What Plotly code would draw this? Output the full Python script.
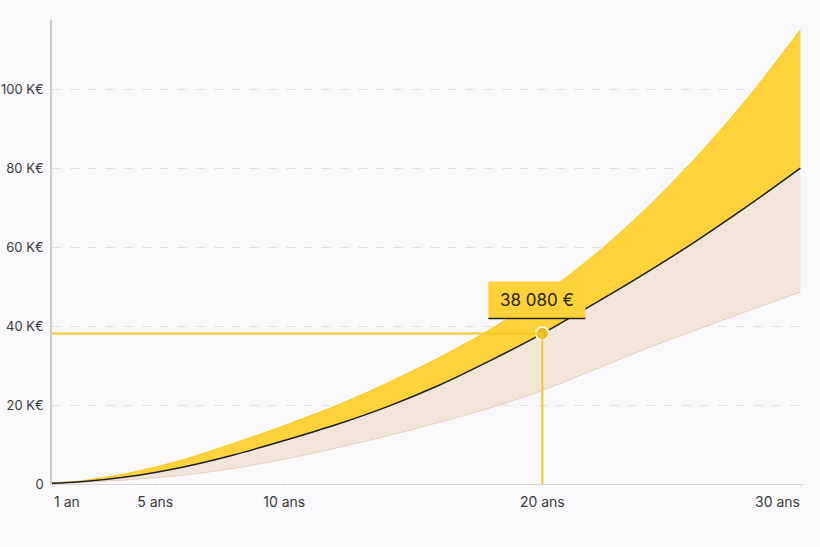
import plotly.graph_objects as go

# ---- data (K€) ----
years = [1, 2, 4, 6, 8, 10, 12, 14, 16, 18, 20, 22, 24, 26, 28, 30]
median_k = [0.2, 0.5, 1.9, 4.2, 7.3, 11.0, 15.0, 19.6, 25.0, 31.3, 38.08, 45.6, 53.4, 61.7, 70.6, 80.0]
high_k = [0.3, 0.7, 2.8, 6.0, 10.2, 14.8, 19.8, 25.6, 32.0, 39.2, 47.8, 57.9, 69.6, 83.0, 98.1, 115.0]
low_k = [0.2, 0.35, 1.1, 2.2, 3.9, 6.3, 9.1, 12.2, 15.6, 19.3, 23.7, 28.9, 34.2, 39.1, 43.9, 48.6]

x_tickvals = [1, 5, 10, 20, 30]
x_ticktext = ["1 an", "5 ans", "10 ans", "20 ans", "30 ans"]
y_tickvals = [0, 20, 40, 60, 80, 100]
y_ticktext = ["0", "20 K€", "40 K€", "60 K€", "80 K€", "100 K€"]

focus_year = 20
focus_value = 38.08
focus_label = "38 080 €"

YELLOW = "#FDD23A"
YELLOW_LINE = "#F6C824"
BEIGE = "#F1E4D9"
TAN = "#E6CFBC"
FONT = "Inter"
TXT = "#3A3A3A"

fig = go.Figure()
fig.add_trace(go.Scatter(x=years, y=low_k, mode="lines",
                         line=dict(color=TAN, width=1, shape="spline", smoothing=0.8),
                         hoverinfo="skip"))
fig.add_trace(go.Scatter(x=years, y=median_k, mode="lines",
                         line=dict(color="rgba(0,0,0,0)", width=0, shape="spline", smoothing=0.8),
                         fill="tonexty", fillcolor=BEIGE, hoverinfo="skip"))
fig.add_trace(go.Scatter(x=years, y=high_k, mode="lines",
                         line=dict(color=YELLOW_LINE, width=1, shape="spline", smoothing=0.8),
                         fill="tonexty", fillcolor=YELLOW, hoverinfo="skip"))
fig.add_trace(go.Scatter(x=years, y=median_k, mode="lines",
                         line=dict(color="#1E1E1E", width=1.5, shape="spline", smoothing=0.8),
                         hoverinfo="skip"))

shapes = [
    dict(type="line", xref="x", yref="y", x0=1, x1=focus_year, y0=focus_value, y1=focus_value,
         line=dict(color=YELLOW_LINE, width=2), layer="above"),
    dict(type="line", xref="x", yref="y", x0=focus_year, x1=focus_year, y0=0, y1=focus_value,
         line=dict(color=YELLOW_LINE, width=2), layer="above"),
    dict(type="rect", xref="x", yref="y", xsizemode="pixel", ysizemode="pixel",
         xanchor=focus_year, yanchor=focus_value, x0=-54, x1=43, y0=15, y1=52,
         fillcolor="#FCD13A", line=dict(width=0), layer="above"),
    dict(type="line", xref="x", yref="y", xsizemode="pixel", ysizemode="pixel",
         xanchor=focus_year, yanchor=focus_value, x0=-54, x1=43, y0=15, y1=15,
         line=dict(color="#2A2418", width=1.5), layer="above"),
]

fig.add_trace(go.Scatter(x=[focus_year], y=[focus_value], mode="markers",
                         marker=dict(size=13, color="#E8B820",
                                     line=dict(color="#FFF6D6", width=2)),
                         hoverinfo="skip"))

fig.add_annotation(x=focus_year, y=focus_value, xref="x", yref="y",
                   text=focus_label, showarrow=False, xshift=-5, yshift=34,
                   font=dict(family=FONT, size=17, color="#2A2418"))

# end labels of the x axis are aligned to the axis ends (as in the reference)
axis_ticktext = [""] + x_ticktext[1:-1] + [""]
fig.add_annotation(x=x_tickvals[0], y=0, xref="x", yref="paper", text=x_ticktext[0],
                   showarrow=False, xanchor="left", yanchor="middle", yshift=-17,
                   font=dict(family=FONT, size=14, color=TXT))
fig.add_annotation(x=x_tickvals[-1], y=0, xref="x", yref="paper", text=x_ticktext[-1],
                   showarrow=False, xanchor="right", yanchor="middle", yshift=-17, xshift=2,
                   font=dict(family=FONT, size=14, color=TXT))

fig.update_layout(
    width=820, height=547,
    margin=dict(l=52, r=17, t=20, b=63, autoexpand=False),
    paper_bgcolor="#F9F9FB", plot_bgcolor="#F9F9FB",
    showlegend=False, hovermode=False,
    shapes=shapes,
    font=dict(family=FONT, size=13, color=TXT),
    xaxis=dict(range=[1, 30.1], tickvals=x_tickvals, ticktext=axis_ticktext,
               showgrid=False, zeroline=False, showline=True, automargin=False,
               linecolor="#D6D6D8", linewidth=1,
               ticks="outside", ticklen=5, tickcolor="#ECECEE",
               tickfont=dict(family=FONT, size=14, color=TXT),
               ticklabelstandoff=0),
    yaxis=dict(range=[0, 117.5], tickvals=y_tickvals, ticktext=y_ticktext,
               showgrid=True, gridcolor="#E0E0E4", griddash="dash", gridwidth=1,
               zeroline=False, showline=True, linecolor="#CBCBCE", linewidth=1.5,
               automargin=False,
               ticks="", tickfont=dict(family=FONT, size=13, color=TXT),
               ticklabelstandoff=4),
)

fig.write_html("out.html", config={"displayModeBar": False},
               post_script="document.body.style.margin='0';document.body.style.background='#F9F9FB';")
